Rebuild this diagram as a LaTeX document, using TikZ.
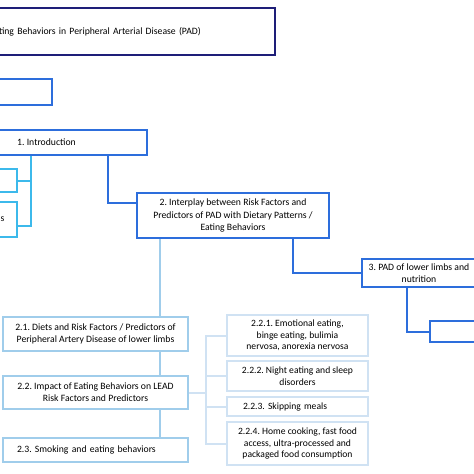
\documentclass[tikz,border=0pt]{standalone}
\usepackage{fontspec}
\setmainfont{Carlito}
\usepackage{xcolor}
\usepackage{tikz}
\usetikzlibrary{positioning}
\frenchspacing

\definecolor{navy}{RGB}{30,30,120}
\definecolor{mainblue}{RGB}{45,110,220}
\definecolor{cyanblue}{RGB}{60,185,235}
\definecolor{paleblue}{RGB}{160,205,235}
\definecolor{faintblue}{RGB}{208,226,243}

\begin{document}
\begin{tikzpicture}[x=1pt,y=-1pt,font=\fontsize{9.7}{12.5}\selectfont,
  box/.style={draw,rectangle,inner sep=0pt,align=center,fill=white},
  titlebox/.style={box,draw=navy,line width=2.6pt},
  secbox/.style={box,draw=mainblue,line width=2.3pt},
  leafbox/.style={box,draw=cyanblue,line width=2pt},
  subbox/.style={box,draw=paleblue,line width=2.4pt,font=\fontsize{9.7}{12}\selectfont},
  subsubbox/.style={box,draw=faintblue,line width=2pt,font=\fontsize{9.6}{11.5}\selectfont},
  seclink/.style={draw=mainblue,line width=2.3pt},
  leaflink/.style={draw=cyanblue,line width=2pt},
  sublink/.style={draw=paleblue,line width=2.4pt},
  subsublink/.style={draw=faintblue,line width=2pt}]
\fill[white] (0,0) rectangle (474,474);
\useasboundingbox (0,0) rectangle (474,474);
\clip (0,0) rectangle (474,474);

% turning points of the connectors
\coordinate (k1) at (108,203);
\coordinate (k2) at (293,273);
\coordinate (k3) at (407,332);
\coordinate (k4) at (160,0);
\coordinate (k5) at (206,0);
\coordinate (cy) at (31,225.5);

\node[titlebox, minimum height=47, text width=242, inner xsep=34, align=left] (title) at (120,31.5)
  {ting Behaviors in Peripheral Arterial Disease (PAD)};
\node[secbox, minimum width=80, minimum height=26] (overview) at (12,92) {};
\node[secbox, minimum width=201, minimum height=25] (intro) at (46.5,142.5) {1. Introduction};
\node[leafbox, minimum width=50, minimum height=23] (aims) at (-8,180.5) {};
\node[leafbox, minimum height=35, text width=32, inner xsep=12.5, align=right] (scope) at (-11.5,219.5) {s};
\node[secbox, minimum width=192, minimum height=45] (interplay) at (233,215.5)
  {2. Interplay between Risk Factors and\\Predictors of PAD with Dietary Patterns /\\Eating Behaviors};
\node[secbox, minimum width=114, minimum height=28] (limbs) at (419,273) {3. PAD of lower limbs and\\nutrition};
\node[secbox, minimum width=60, minimum height=21] (nutrition) at (460,331.5) {};

\node[subbox, minimum width=185, minimum height=34] (diets) at (95.5,334)
  {2.1. Diets and Risk Factors / Predictors of\\Peripheral Artery Disease of lower limbs};
\node[subbox, minimum width=185, minimum height=33] (impact) at (95.5,392.5)
  {2.2. Impact of Eating Behaviors on LEAD\\Risk Factors and Predictors};
\node[subbox, minimum height=24, text width=157, inner xsep=14, align=left] (smoking) at (95.5,450)
  {2.3. Smoking and eating behaviors};

\node[subsubbox, minimum width=141, minimum height=41] (emotional) at (297.5,335.5)
  {2.2.1. Emotional eating,\\binge eating, bulimia\\nervosa, anorexia nervosa};
\node[subsubbox, minimum width=141, minimum height=30] (night) at (297.5,376)
  {2.2.2. Night eating and sleep\\disorders};
\node[subsubbox, minimum height=19, text width=109, inner xsep=16, align=left] (skipping) at (297.5,406.5)
  {2.2.3. Skipping meals};
\node[subsubbox, minimum width=141, minimum height=43] (cooking) at (297.5,443.5)
  {2.2.4. Home cooking, fast food\\access, ultra-processed and\\packaged food consumption};

% connectors
\draw[seclink] (intro.south -| k1) -- (k1) -- (interplay.west |- k1);
\draw[seclink] (interplay.south -| k2) -- (k2) -- (limbs.west);
\draw[seclink] (limbs.south -| k3) -- (k3) -- (nutrition.west |- k3);
\draw[leaflink] (intro.south -| cy) -- (cy) -- (scope.east |- cy);
\draw[leaflink] (aims.east) -- (aims.east -| cy);
\draw[sublink] (interplay.south -| k4) -- (diets.north -| k4);
\draw[sublink] (diets.south -| k4) -- (impact.north -| k4);
\draw[sublink] (impact.south -| k4) -- (smoking.north -| k4);
\draw[subsublink] (impact.east) -- (impact.east -| k5);
\draw[subsublink] (emotional.west) -| (k5 |- cooking.west) -- (cooking.west);
\draw[subsublink] (night.west) -- (night.west -| k5);
\draw[subsublink] (skipping.west) -- (skipping.west -| k5);
\end{tikzpicture}
\end{document}
